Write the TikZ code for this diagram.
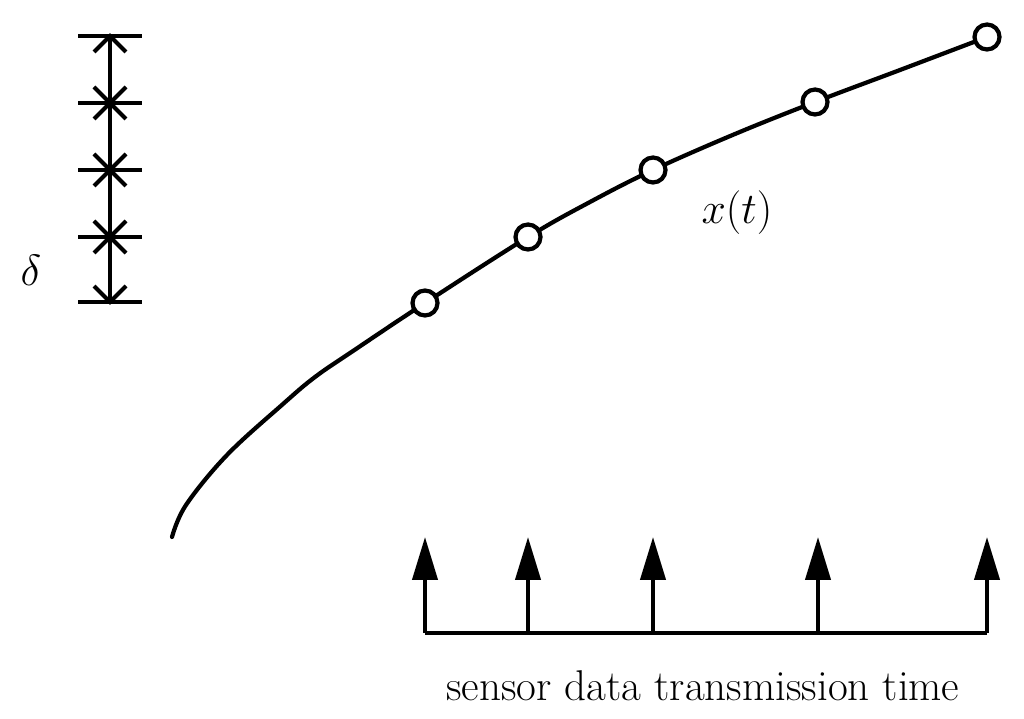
\documentclass[tikz,border=0pt]{standalone}
\usetikzlibrary{arrows.meta}
\tikzset{
  sample/.style={circle, draw, fill=white, line width=2.4pt, inner sep=0pt, minimum size=0.5cm},
  tick/.style={-{Triangle[length=0.86cm, width=0.5cm]}},
}
\begin{document}
\begin{tikzpicture}[x=0.02cm, y=-0.02cm, line width=2.4pt]
\useasboundingbox (0,0) rectangle (1024,719);
% quantisation scale
\coordinate (top) at (110,36);
\coordinate (bot) at (110,302);
\draw (top) -- (bot);
\foreach \y in {36,103,170,237,302}
  \draw (78,\y) -- (142,\y);
\foreach \y in {103,170,237}
  \draw (94,\y-16) -- (126,\y+16) (94,\y+16) -- (126,\y-16);
\draw (94,52) -- (top) -- (126,52);
\draw (94,286) -- (bot) -- (126,286);
\node at (31,270) {\fontsize{34}{38}\selectfont$\delta$};
% signal
\draw[line cap=round] plot[smooth, tension=0.6] coordinates {(172,537) (186,505) (227,455) (283,404) (315,377) (353,351) (425,303) (528,237) (590,202) (653,170) (735,134) (815,102) (900,70) (987,37)};
\node[sample] (p1) at (425,303) {};
\node[sample] (p2) at (528,237) {};
\node[sample] (p3) at (653,170) {};
\node[sample] (p4) at (815,102) {};
\node[sample] (p5) at (987,37) {};
\node at (737,213) {\fontsize{29}{34}\selectfont$x(t)$};
% transmission instants
\coordinate (b1) at (425,633);
\coordinate (b5) at (987,633);
\draw (b1) -- (b5);
\foreach \x in {425,528,653,818,987}
  \draw[tick] (\x,633) -- (\x,537);
\node (lbl) at (703,686) {\fontsize{24.5}{29}\selectfont sensor data transmission time};
\end{tikzpicture}
\end{document}
